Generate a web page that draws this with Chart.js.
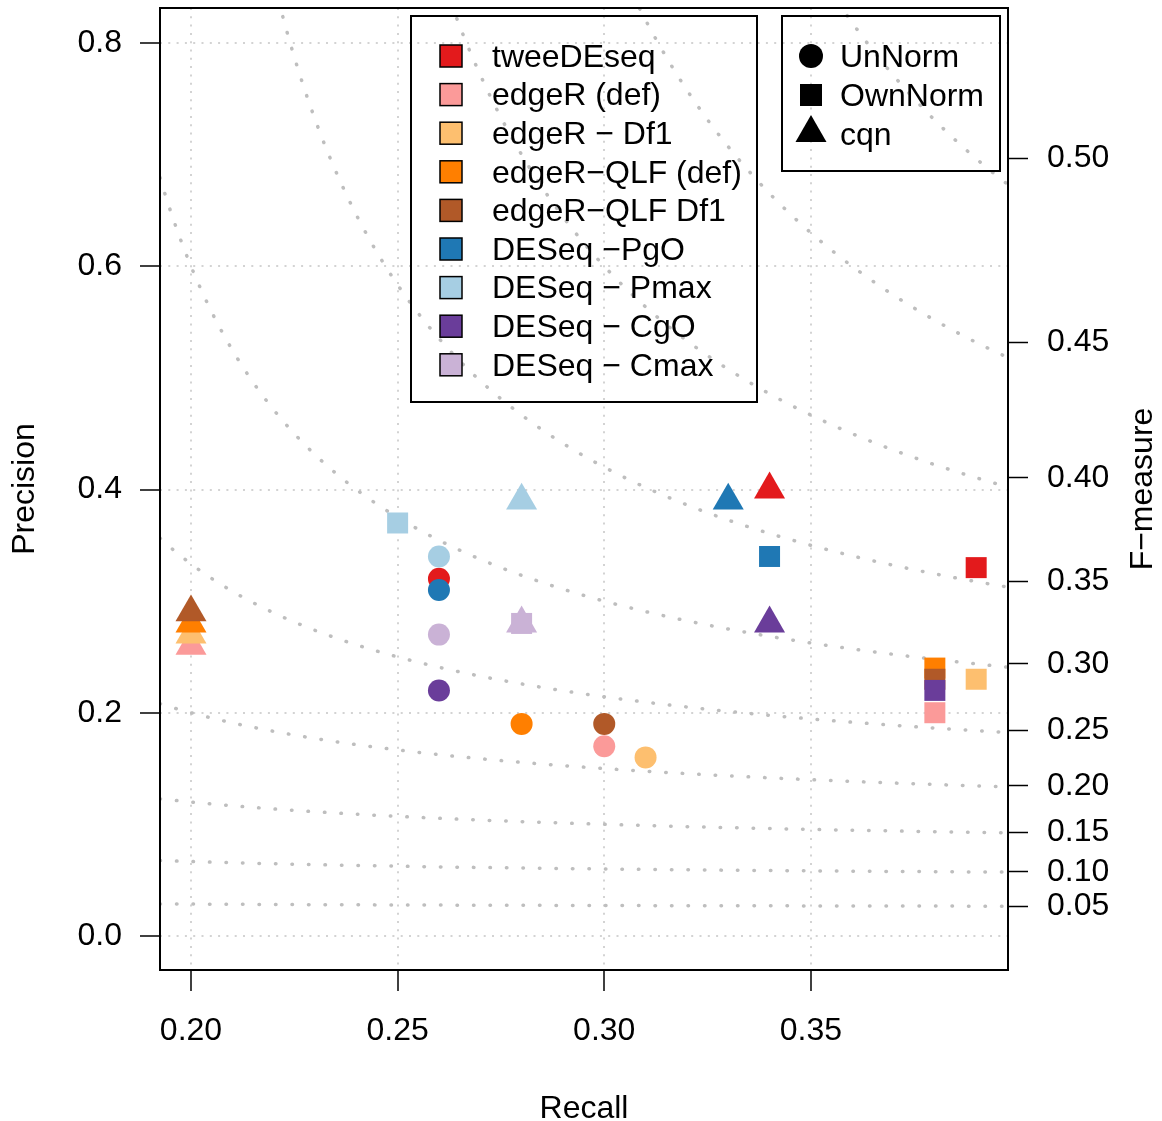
<!DOCTYPE html>
<html>
<head>
<meta charset="utf-8">
<script src="https://cdn.jsdelivr.net/npm/chart.js@4.4.0/dist/chart.umd.min.js"></script>
<style>
  body { margin: 0; background: #fff; }
</style>
</head>
<body>
<canvas id="myChart" width="1162" height="1121"></canvas>
<script>
// methods and their colours (legend order = draw order)
const methods = ['tweeDEseq', 'edgeR (def)', 'edgeR \u2212 Df1', 'edgeR\u2212QLF (def)', 'edgeR\u2212QLF Df1',
                 'DESeq \u2212PgO', 'DESeq \u2212 Pmax', 'DESeq \u2212 CgO', 'DESeq \u2212 Cmax'];
const methodColors = ['#E31A1C', '#FB9A99', '#FDBF6F', '#FF7F00', '#B15928',
                      '#1F78B4', '#A6CEE3', '#6A3D9A', '#CAB2D6'];
const normNames = ['UnNorm', 'OwnNorm', 'cqn'];

const unNormRecall     = [0.26, 0.30, 0.31, 0.28, 0.30, 0.26, 0.26, 0.26, 0.26];
const unNormPrecision  = [0.32, 0.17, 0.16, 0.19, 0.19, 0.31, 0.34, 0.22, 0.27];
const ownNormRecall    = [0.39, 0.38, 0.39, 0.38, 0.38, 0.34, 0.25, 0.38, 0.28];
const ownNormPrecision = [0.33, 0.20, 0.23, 0.24, 0.23, 0.34, 0.37, 0.22, 0.28];
const cqnRecall        = [0.34, 0.20, 0.20, 0.20, 0.20, 0.33, 0.28, 0.34, 0.28];
const cqnPrecision     = [0.40, 0.26, 0.27, 0.28, 0.29, 0.39, 0.39, 0.28, 0.28];

const xTicks = [0.20, 0.25, 0.30, 0.35];
const xTickLabels = ['0.20', '0.25', '0.30', '0.35'];
const yTicks = [0.0, 0.2, 0.4, 0.6, 0.8];
const yTickLabels = ['0.0', '0.2', '0.4', '0.6', '0.8'];
const fLevels = [0.05, 0.10, 0.15, 0.20, 0.25, 0.30, 0.35, 0.40, 0.45, 0.50];
const fTickLabels = ['0.05', '0.10', '0.15', '0.20', '0.25', '0.30', '0.35', '0.40', '0.45', '0.50'];

const xMin = 0.1925, xMax = 0.3977;
const yMin = -0.0305, yMax = 0.8314;
const maxRecall = Math.max(...unNormRecall, ...ownNormRecall, ...cqnRecall);

const fontFamily = '"Liberation Sans", Arial, Helvetica, sans-serif';
Chart.defaults.font.family = fontFamily;
Chart.defaults.font.size = 32;
Chart.defaults.color = '#000';

// iso F-measure curve: P = F*R / (2R - F)
function fCurve(f) {
  const pts = [];
  for (let i = 0; i <= 1200; i++) {
    const r = xMin + (xMax - xMin) * i / 1200;
    const d = 2 * r - f;
    if (d <= 0) continue;
    const p = f * r / d;
    if (p > 3) continue;
    pts.push({ x: r, y: p });
  }
  return pts;
}

function toPoints(rec, prec) {
  return rec.map((r, i) => ({ x: r, y: prec[i] }));
}

const contourSets = fLevels.map(f => ({
  data: fCurve(f),
  showLine: true,
  pointRadius: 0,
  borderColor: '#BEBEBE',
  borderWidth: 3.5,
  borderDash: [0.5, 16],
  borderCapStyle: 'round',
  tension: 0,
  clip: 0,
  order: 10
}));

const pointSets = [
  { label: normNames[0], data: toPoints(unNormRecall, unNormPrecision), pointStyle: 'circle', pointRadius: 11, order: 3 },
  { label: normNames[1], data: toPoints(ownNormRecall, ownNormPrecision), pointStyle: 'rect', pointRadius: 14.85, order: 2 },
  { label: normNames[2], data: toPoints(cqnRecall, cqnPrecision), pointStyle: 'triangle', pointRadius: 17.9, order: 1 }
].map(ds => Object.assign(ds, {
  pointBackgroundColor: methodColors,
  pointBorderWidth: 0,
  showLine: false,
  clip: false
}));

const extras = {
  id: 'extras',
  afterDraw(chart) {
    const ctx = chart.ctx;
    const a = chart.chartArea;
    ctx.save();
    ctx.strokeStyle = '#000';
    ctx.lineWidth = 2;
    ctx.strokeRect(a.left, a.top, a.right - a.left, a.bottom - a.top);

    ctx.font = '32px ' + fontFamily;
    ctx.textAlign = 'left';
    ctx.textBaseline = 'middle';

    // method legend
    ctx.lineWidth = 2;
    ctx.strokeRect(411, 16, 346, 386);
    methods.forEach((m, i) => {
      const y = 56 + i * 38.6;
      ctx.fillStyle = methodColors[i];
      ctx.fillRect(440, y - 11, 22, 22);
      ctx.lineWidth = 1.5;
      ctx.strokeRect(440, y - 11, 22, 22);
      ctx.fillStyle = '#000';
      ctx.fillText(m, 492, y + 2);
    });

    // normalisation legend
    ctx.lineWidth = 2;
    ctx.strokeRect(782, 16, 218, 155);
    ctx.fillStyle = '#000';
    ctx.beginPath();
    ctx.arc(811, 56, 12, 0, Math.PI * 2);
    ctx.fill();
    ctx.fillRect(800, 84, 22, 22);
    const tr = 17.9;
    ctx.beginPath();
    ctx.moveTo(811, 133 - tr);
    ctx.lineTo(811 + tr * 0.866, 133 + tr / 2);
    ctx.lineTo(811 - tr * 0.866, 133 + tr / 2);
    ctx.closePath();
    ctx.fill();
    normNames.forEach((n, i) => ctx.fillText(n, 840, 58 + i * 39));

    // right axis title
    ctx.translate(1143, (a.top + a.bottom) / 2);
    ctx.rotate(-Math.PI / 2);
    ctx.textAlign = 'center';
    ctx.fillText('F\u2212measure', 0, 0);
    ctx.restore();
  }
};

const ctx = document.getElementById('myChart').getContext('2d');
const myChart = new Chart(ctx, {
  type: 'scatter',
  data: { datasets: [...pointSets, ...contourSets] },
  options: {
    responsive: false,
    animation: false,
    devicePixelRatio: 1,
    events: [],
    layout: { autoPadding: false, padding: { top: 8, left: 0, right: 0, bottom: 0 } },
    plugins: { legend: { display: false }, tooltip: { enabled: false } },
    scales: {
      x: {
        type: 'linear', position: 'bottom', min: xMin, max: xMax,
        afterBuildTicks: s => { s.ticks = xTicks.map(v => ({ value: v })); },
        afterFit: s => { s.height = 151; s.paddingLeft = 0; s.paddingRight = 0; },
        ticks: { callback: (v, i) => xTickLabels[i], padding: 21, maxRotation: 0, autoSkip: false },
        grid: { color: '#D3D3D3', lineWidth: 2, tickLength: 21, tickColor: '#000', tickWidth: 1.5 },
        border: { display: false, dash: [2, 6.3] },
        title: { display: true, text: 'Recall', font: { size: 32, lineHeight: 0.75 }, padding: 0 }
      },
      y: {
        type: 'linear', position: 'left', min: yMin, max: yMax,
        afterBuildTicks: s => { s.ticks = yTicks.map(v => ({ value: v })); },
        afterFit: s => { s.width = 160; s.paddingTop = 0; s.paddingBottom = 0; },
        ticks: { callback: (v, i) => yTickLabels[i], padding: 18, autoSkip: false },
        grid: { color: '#D3D3D3', lineWidth: 2, tickLength: 20, tickColor: '#000', tickWidth: 1.5 },
        border: { display: false, dash: [2, 6.3] },
        title: { display: true, text: 'Precision', font: { size: 32, lineHeight: 1 }, padding: { top: 9, bottom: 0 } }
      },
      y2: {
        type: 'linear', position: 'right', min: yMin, max: yMax,
        afterBuildTicks: s => { s.ticks = fLevels.map(f => ({ value: f * maxRecall / (2 * maxRecall - f) })); },
        afterFit: s => { s.width = 154; s.paddingTop = 0; s.paddingBottom = 0; },
        ticks: { callback: (v, i) => fTickLabels[i], padding: 19, autoSkip: false },
        grid: { drawOnChartArea: false, tickLength: 20, tickColor: '#000', tickWidth: 1.5 },
        border: { display: false }
      }
    }
  },
  plugins: [extras]
});
</script>
</body>
</html>
